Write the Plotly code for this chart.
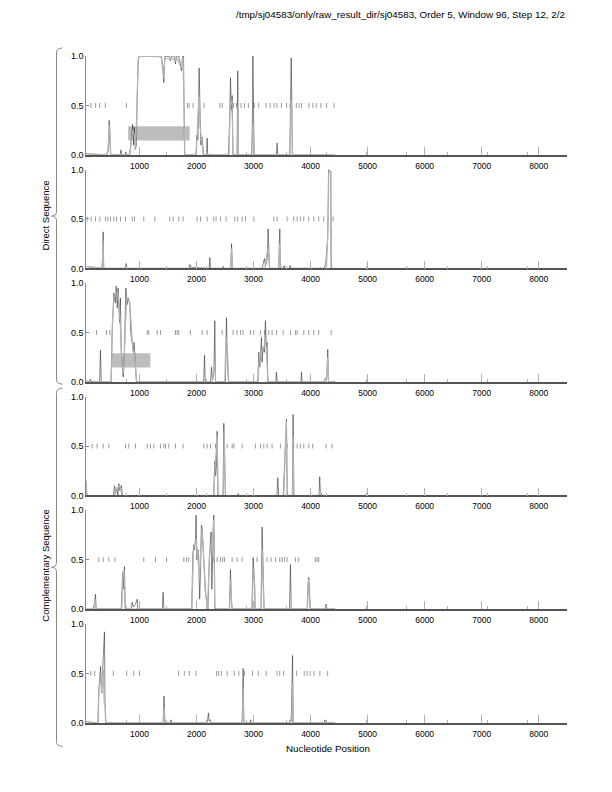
import plotly.graph_objects as go

W, H = 612, 792

title_text = "/tmp/sj04583/only/raw_result_dir/sj04583, Order 5, Window 96, Step 12, 2/2"
x_title = "Nucleotide Position"
group_labels = ["Direct Sequence", "Complementary Sequence"]
x_tick_vals = [1000, 2000, 3000, 4000, 5000, 6000, 7000, 8000]
x_minor_vals = [769, 1472, 2175, 2878, 3581, 4284, 4987, 5690, 6393, 7096, 7799]
y_tick_vals = [0.0, 0.5, 1.0]
y_tick_text = ["0.0", "0.5", "1.0"]

# ---- panel 1 ----
p1_dark_x = [65,420,455,468,480,495,660,675,690,750,760,775,830,860,880,895,910,925,945,960,980,1000,1380,1410,1426,1445,1530,1545,1560,1615,1630,1650,1690,1720,1735,1755,1772,1790,1990,2005,2025,2045,2060,2075,2095,2110,2125,2175,2186,2196,2560,2580,2595,2610,2625,2640,2710,2723,2735,2965,2980,2988,2996,3010,3400,3413,3425,3635,3648,3660,3670,3680,4430]
p1_dark_y = [0.01,0,0.05,0.35,0.15,0,0,0.05,0,0,0.03,0,0,0.2,0.31,0.1,0.28,0.05,0.1,0.6,0.98,1.0,1.0,0.9,0.73,1.0,0.99,0.95,1.0,1.0,0.92,1.0,1.0,0.9,0.85,1.0,1.0,0,0,0.2,0.15,0.88,0.2,0.1,0.18,0.05,0,0,0.17,0,0,0.35,0.78,0.45,0.6,0,0,0.85,0,0,0.35,1.0,0.1,0,0,0.12,0,0,0.5,0.98,0.55,0,0]
p1_gray_x = [65,440,465,480,495,820,850,880,910,930,955,975,1000,1380,1420,1445,1540,1560,1625,1650,1730,1760,1780,1795,1995,2010,2040,2060,2090,2115,2570,2590,2620,2640,2715,2725,2735,2970,2985,3000,3010,3640,3655,3670,3685,4430]
p1_gray_y = [0.01,0,0.25,0.3,0,0,0.1,0.25,0.2,0.05,0.5,0.95,1.0,0.99,0.78,0.98,0.96,0.99,0.94,0.99,0.88,0.99,0.5,0,0,0.25,0.6,0.3,0.15,0,0,0.5,0.55,0,0,0.5,0,0,0.3,0.25,0,0,0.55,0.5,0,0]
p1_stops = [150,230,300,400,770,1840,1870,1940,2130,2410,2450,2600,2650,2700,2780,2840,2910,3010,3090,3220,3290,3360,3410,3490,3580,3640,3750,3800,3840,3970,4040,4100,4180,4280,4410]
p1_gene_start = [800]
p1_gene_end = [1880]

# ---- panel 2 ----
p2_dark_x = [65,340,355,362,372,755,766,778,1870,1882,1900,2220,2233,2245,2460,2470,2480,2600,2614,2628,3150,3191,3210,3240,3255,3268,3280,3440,3460,3470,3480,3525,3535,3545,3630,3640,3650,4240,4265,4300,4315,4355,4362,4430]
p2_dark_y = [0.02,0,0.1,0.37,0,0,0.05,0,0,0.04,0.01,0,0.11,0,0,0.02,0,0,0.25,0,0,0.1,0.02,0.1,0.4,0.1,0,0,0.4,0.05,0,0,0.03,0,0,0.03,0,0,0.05,0.3,1.0,0.98,0,0]
p2_gray_x = [65,345,360,372,2600,2615,2630,3200,3225,3255,3270,3285,3445,3455,3470,4280,4310,4320,4350,4358,4430]
p2_gray_y = [0.02,0,0.28,0,0,0.2,0,0,0.12,0.2,0.08,0,0,0.25,0,0,0.5,0.98,0.97,0,0]
p2_stops = [82,152,228,304,403,444,491,549,596,666,754,871,912,1075,1268,1531,1590,1689,1765,2010,2069,2186,2302,2343,2419,2519,2671,2723,2799,2858,3004,3354,3413,3588,3705,3763,3822,3880,3968,4056,4143,4231,4395]
p2_gene_start = []
p2_gene_end = []

# ---- panel 3 ----
p3_dark_x = [65,120,140,160,300,315,330,500,520,550,575,591,610,625,650,665,680,700,715,735,760,780,800,830,845,870,890,905,920,945,2125,2140,2152,2245,2262,2280,2305,2320,2332,2505,2525,2540,2560,3075,3091,3110,3138,3150,3167,3190,3208,3225,3237,3250,3390,3400,3415,3830,3840,3850,4240,4260,4285,4301,4315,4430]
p3_dark_y = [0.01,0,0.03,0,0,0.32,0,0,0.5,0.9,0.8,0.97,0.75,0.95,0.6,0.85,0.3,0.12,0.05,0.3,0.95,0.78,0.85,0.8,0.5,0.4,0.3,0.4,0.2,0,0,0.27,0,0,0.15,0.02,0.1,0.62,0,0,0.65,0.2,0,0,0.3,0.15,0.45,0.2,0.35,0.3,0.62,0.35,0.4,0,0,0.1,0,0,0.1,0,0,0.04,0.05,0.33,0,0]
p3_gray_x = [65,505,525,550,590,625,660,690,720,750,775,810,840,880,920,950,2270,2290,2320,2335,2495,2515,2540,2565,3080,3100,3140,3180,3210,3240,3255,4280,4300,4315,4430]
p3_gray_y = [0.01,0,0.6,0.85,0.9,0.88,0.6,0.2,0.1,0.6,0.85,0.85,0.7,0.35,0.25,0,0,0.05,0.2,0,0,0.45,0.35,0,0,0.25,0.3,0.35,0.45,0.2,0,0,0.25,0,0]
p3_stops = [245,421,479,1134,1163,1309,1367,1630,1660,1689,1893,2098,2186,2449,2641,2711,2770,2817,2945,3004,3120,3196,3267,3325,3401,3518,3647,3734,3763,3880,3968,4056,4143,4360]
p3_gene_start = [510]
p3_gene_end = [1190]

# ---- panel 4 ----
p4_dark_x = [65,75,540,561,580,600,620,637,655,684,700,2300,2320,2335,2350,2361,2375,2465,2478,2490,2505,2720,2730,2740,3410,3425,3440,3520,3541,3565,3577,3590,3680,3694,3706,4140,4150,4160,4172,4190,4200,4430]
p4_dark_y = [0.15,0,0,0.1,0.02,0.08,0,0.12,0.05,0.1,0,0,0.35,0.2,0.3,0.65,0,0,0.73,0.2,0,0,0.02,0,0,0.18,0,0,0.3,0.7,0.77,0,0,0.82,0,0,0.02,0.19,0.02,0.02,0,0]
p4_gray_x = [65,80,560,580,620,660,690,2305,2325,2345,2362,2378,2470,2485,2500,2510,3530,3555,3575,3590,3685,3695,3705,4150,4165,4180,4430]
p4_gray_y = [0.1,0,0,0.06,0.08,0.1,0,0,0.3,0.45,0.6,0,0,0.65,0.15,0,0,0.5,0.75,0,0,0.6,0,0,0.05,0,0]
p4_stops = [170,257,362,462,754,812,929,1134,1192,1251,1367,1426,1455,1514,1630,1765,2127,2186,2244,2332,2536,2624,2653,2799,3033,3120,3179,3237,3325,3471,3588,3705,3763,3822,3880,3968,4038,4272,4377]
p4_gene_start = []
p4_gene_end = []

# ---- panel 5 ----
p5_dark_x = [65,180,210,228,240,680,700,713,725,736,750,850,871,890,930,958,970,1400,1414,1428,1915,1935,1952,1965,1980,1993,2005,2025,2040,2055,2075,2086,2100,2115,2140,2160,2186,2200,2225,2244,2255,2268,2285,2302,2312,2322,2575,2595,2610,2625,2970,2992,3005,3015,3025,3130,3150,3170,3185,3630,3647,3660,3940,3955,3968,3980,3995,4255,4272,4290,4430]
p5_dark_y = [0,0,0.05,0.15,0,0,0.3,0.38,0.2,0.43,0,0,0.07,0.02,0.05,0.1,0,0,0.17,0,0,0.55,0.65,0.6,0.7,0.95,0.5,0.6,0.45,0.1,0.5,0.85,0.8,0.6,0.35,0.15,0.05,0,0.5,0.7,0.78,0.2,0.7,0.95,0.6,0,0,0.4,0.1,0,0,0.52,0.4,0.3,0,0,0.83,0.1,0,0,0.45,0,0,0.25,0.32,0.2,0,0,0.05,0,0]
p5_gray_x = [65,200,220,240,690,710,730,748,1920,1945,1990,2020,2050,2085,2110,2150,2190,2230,2260,2300,2320,2580,2600,2620,2975,2995,3020,3030,3135,3155,3180,3945,3965,3990,4430]
p5_gray_y = [0,0,0.1,0,0,0.35,0.4,0,0,0.6,0.7,0.55,0.3,0.8,0.7,0.2,0,0.6,0.6,0.9,0,0,0.3,0,0,0.4,0.25,0,0,0.6,0,0,0.3,0,0]
p5_stops = [286,362,462,567,1075,1280,1473,1777,1823,1864,2302,2361,2419,2460,2490,2624,2711,2799,3062,3150,3237,3308,3384,3459,3500,3541,3588,3734,3792,4085,4114,4143]
p5_gene_start = []
p5_gene_end = []

# ---- panel 6 ----
p6_dark_x = [65,270,283,300,317,335,350,365,385,395,410,1415,1430,1445,1540,1550,1560,2180,2195,2209,2220,2240,2250,2800,2817,2830,2940,2950,2960,3630,3640,3660,3684,3695,4240,4250,4260,4430]
p6_dark_y = [0.01,0,0.3,0.45,0.57,0.3,0.5,0.6,0.92,0.2,0,0,0.27,0,0,0.03,0,0,0.03,0.1,0.02,0.03,0,0,0.55,0,0,0.03,0,0,0.03,0.02,0.68,0,0,0.03,0,0]
p6_gray_x = [65,275,290,320,340,360,380,395,405,1420,1432,1445,2805,2815,2830,3675,3685,3695,4430]
p6_gray_y = [0.01,0,0.35,0.45,0.3,0.55,0.2,0.2,0,0,0.15,0,0,0.35,0,0,0.4,0,0]
p6_stops = [146,214,365,542,775,898,1000,1683,1786,1874,1990,2352,2387,2434,2537,2660,2742,2844,2981,3083,3220,3411,3459,3527,3753,3889,3937,3992,4060,4163,4299]
p6_gene_start = []
p6_gene_end = []

panels = [
    (p1_dark_x, p1_dark_y, p1_gray_x, p1_gray_y, p1_stops, p1_gene_start, p1_gene_end),
    (p2_dark_x, p2_dark_y, p2_gray_x, p2_gray_y, p2_stops, p2_gene_start, p2_gene_end),
    (p3_dark_x, p3_dark_y, p3_gray_x, p3_gray_y, p3_stops, p3_gene_start, p3_gene_end),
    (p4_dark_x, p4_dark_y, p4_gray_x, p4_gray_y, p4_stops, p4_gene_start, p4_gene_end),
    (p5_dark_x, p5_dark_y, p5_gray_x, p5_gray_y, p5_stops, p5_gene_start, p5_gene_end),
    (p6_dark_x, p6_dark_y, p6_gray_x, p6_gray_y, p6_stops, p6_gene_start, p6_gene_end),
]

FONT = "Liberation Sans"
# target pixel positions (as seen in the reference picture)
X_LEFT_PX, X_RIGHT_PX = 85.7, 566.7
PANEL_TOPS_PX = [55, 168.5, 282, 395.5, 509, 622.7]
PANEL_H_PX = 98.8
# empirical correction for page offset seen in the rendered picture
OFF_X, OFF_Y, K_Y = 7.5, 12.0, 0.987

def px(x):
    return (x - OFF_X) / W

def py(y):
    return 1 - ((y - OFF_Y) / K_Y) / H

fig = go.Figure()
layout = dict(
    width=W, height=H, margin=dict(l=0, r=0, t=0, b=0),
    paper_bgcolor="white", plot_bgcolor="white", showlegend=False,
    font=dict(family=FONT, size=9, color="black"),
)
shapes = []
for i, (dx, dy, gx, gy, stops, gs, ge) in enumerate(panels):
    n = "" if i == 0 else str(i + 1)
    top = PANEL_TOPS_PX[i]
    bot = top + PANEL_H_PX
    layout["xaxis" + n] = dict(
        domain=[px(X_LEFT_PX), px(X_RIGHT_PX)], anchor="y" + n,
        range=[65, 8500], tickvals=x_tick_vals, ticks="inside", ticklen=8,
        tickcolor="#b0b0b0", tickwidth=1, showgrid=False, zeroline=False,
        showline=True, linecolor="#555555", linewidth=1.5,
        tickfont=dict(family=FONT, size=8.5), ticklabelstandoff=2,
        minor=dict(ticks="inside", ticklen=3, tickcolor="#b0b0b0",
                   tickmode="array", tickvals=x_minor_vals),
    )
    layout["yaxis" + n] = dict(
        domain=[py(bot), py(top)], anchor="x" + n,
        range=[0, 1.0], tickvals=y_tick_vals, ticktext=y_tick_text,
        ticks="inside", ticklen=3, tickcolor="#888888",
        showgrid=False, zeroline=False, showline=True,
        linecolor="#888888", linewidth=1, tickfont=dict(family=FONT, size=9),
    )
    xa, ya = "x" + n, "y" + n
    for s, e in zip(gs, ge):
        shapes.append(dict(type="rect", xref=xa, yref=ya, x0=s, x1=e, y0=0.145, y1=0.29,
                           fillcolor="#bdbdbd", line=dict(width=0), layer="below"))
    fig.add_trace(go.Scatter(x=stops, y=[0.5] * len(stops), mode="markers", xaxis=xa, yaxis=ya,
                             marker=dict(symbol="line-ns", size=3.5, line=dict(color="#9a9a9a", width=1)),
                             hoverinfo="skip"))
    fig.add_trace(go.Scatter(x=dx, y=dy, mode="lines", xaxis=xa, yaxis=ya,
                             line=dict(color="#333333", width=0.6), hoverinfo="skip"))
    fig.add_trace(go.Scatter(x=gx, y=gy, mode="lines", xaxis=xa, yaxis=ya,
                             line=dict(color="#b4b4b4", width=1.1), hoverinfo="skip"))

def brace(top, bot, xline, tip, xend):
    mid = (top + bot) / 2
    r = 5
    pts = (f"M {px(xend)},{py(top)} Q {px(xline)},{py(top)} {px(xline)},{py(top + r)} "
           f"L {px(xline)},{py(mid - r)} Q {px(xline)},{py(mid)} {px(tip)},{py(mid)} "
           f"Q {px(xline)},{py(mid)} {px(xline)},{py(mid + r)} "
           f"L {px(xline)},{py(bot - r)} Q {px(xline)},{py(bot)} {px(xend)},{py(bot)}")
    return dict(type="path", path=pts, xref="paper", yref="paper",
                line=dict(color="#888888", width=1))

shapes.append(brace(47, 383, 56, 51, 62))
shapes.append(brace(387, 745, 56, 51, 62))
layout["shapes"] = shapes
layout["annotations"] = [
    dict(text=title_text, x=px(566), y=py(13), xref="paper", yref="paper",
         xanchor="right", yanchor="middle", showarrow=False, font=dict(size=9.8)),
    dict(text=x_title, x=px(327), y=py(747), xref="paper", yref="paper",
         xanchor="center", yanchor="middle", showarrow=False, font=dict(size=9.8)),
    dict(text=group_labels[0], x=px(45), y=py(215), xref="paper", yref="paper",
         textangle=-90, xanchor="center", yanchor="middle", showarrow=False, font=dict(size=9.5)),
    dict(text=group_labels[1], x=px(45), y=py(565), xref="paper", yref="paper",
         textangle=-90, xanchor="center", yanchor="middle", showarrow=False, font=dict(size=9.5)),
]
fig.update_layout(**layout)
fig.write_html("out.html")
